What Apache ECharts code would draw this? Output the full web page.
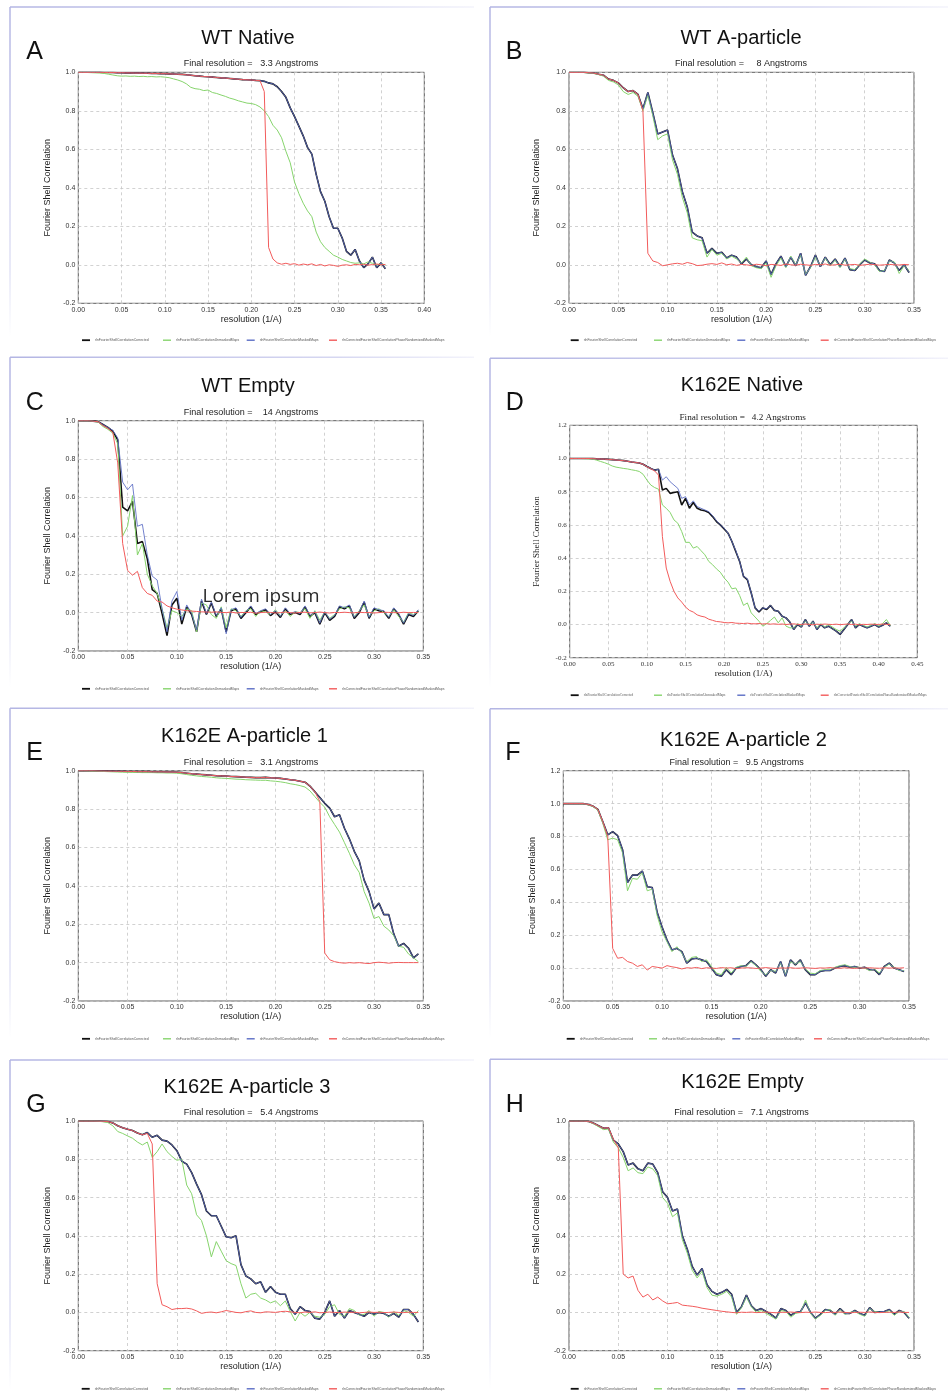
<!DOCTYPE html>
<html>
<head>
<meta charset="utf-8">
<script src="https://cdn.jsdelivr.net/npm/echarts@6/dist/echarts.min.js"></script>
<style>
  html, body { margin: 0; padding: 0; background: #fff; }
  #chart { width: 948px; height: 1395px; }
</style>
</head>
<body>
<div id="chart"></div>
<script>
// resolution samples (1/A)
const resA = [0,0.005,0.01,0.015,0.02,0.025,0.03,0.035,0.04,0.045,0.05,0.055,0.06,0.065,0.07,0.075,0.08,0.085,0.09,0.095,0.1,0.105,0.11,0.115,0.12,0.125,0.13,0.135,0.14,0.145,0.15,0.155,0.16,0.165,0.17,0.175,0.18,0.185,0.19,0.195,0.2,0.205,0.21,0.215,0.22,0.225,0.23,0.235,0.24,0.245,0.25,0.255,0.26,0.265,0.27,0.275,0.28,0.285,0.29,0.295,0.3,0.305,0.31,0.315,0.32,0.325,0.33,0.335,0.34,0.345,0.35,0.355];
const resS = [0,0.005,0.01,0.015,0.02,0.025,0.03,0.035,0.04,0.045,0.05,0.055,0.06,0.065,0.07,0.075,0.08,0.085,0.09,0.095,0.1,0.105,0.11,0.115,0.12,0.125,0.13,0.135,0.14,0.145,0.15,0.155,0.16,0.165,0.17,0.175,0.18,0.185,0.19,0.195,0.2,0.205,0.21,0.215,0.22,0.225,0.23,0.235,0.24,0.245,0.25,0.255,0.26,0.265,0.27,0.275,0.28,0.285,0.29,0.295,0.3,0.305,0.31,0.315,0.32,0.325,0.33,0.335,0.34,0.345];
const resD = [0,0.005,0.01,0.015,0.02,0.025,0.03,0.035,0.04,0.045,0.05,0.055,0.06,0.065,0.07,0.075,0.08,0.085,0.09,0.095,0.1,0.105,0.11,0.115,0.12,0.125,0.13,0.135,0.14,0.145,0.15,0.155,0.16,0.165,0.17,0.175,0.18,0.185,0.19,0.195,0.2,0.205,0.21,0.215,0.22,0.225,0.23,0.235,0.24,0.245,0.25,0.255,0.26,0.265,0.27,0.275,0.28,0.285,0.29,0.295,0.3,0.305,0.31,0.315,0.32,0.325,0.33,0.335,0.34,0.345,0.35,0.355,0.36,0.365,0.37,0.375,0.38,0.385,0.39,0.395,0.4,0.405,0.41,0.415];

// A - WT Native
const corrA = [1.000,1.000,1.000,1.000,1.000,1.000,0.999,0.999,0.999,0.998,0.998,0.997,0.997,0.996,0.996,0.995,0.995,0.994,0.994,0.993,0.993,0.992,0.991,0.990,0.989,0.987,0.985,0.982,0.980,0.978,0.977,0.975,0.973,0.971,0.970,0.968,0.966,0.964,0.962,0.961,0.960,0.958,0.957,0.953,0.945,0.940,0.925,0.900,0.870,0.815,0.770,0.720,0.670,0.610,0.575,0.470,0.380,0.330,0.250,0.190,0.190,0.140,0.070,0.050,0.080,0.020,-0.015,0.005,0.040,-0.015,0.010,-0.020];
const unmaskA = [1.000,1.000,0.999,0.998,0.997,0.996,0.994,0.990,0.986,0.982,0.980,0.981,0.979,0.980,0.978,0.979,0.977,0.978,0.976,0.977,0.975,0.972,0.966,0.960,0.952,0.940,0.922,0.915,0.912,0.905,0.908,0.895,0.890,0.882,0.875,0.866,0.860,0.852,0.846,0.840,0.838,0.832,0.820,0.800,0.770,0.725,0.700,0.660,0.590,0.530,0.430,0.370,0.320,0.280,0.250,0.170,0.120,0.090,0.070,0.050,0.040,0.028,0.020,0.012,0.008,0.010,0.005,0.015,0.008,0.000,0.005,0.000];
const phaseA = [1.000,1.000,1.000,1.000,1.000,1.000,0.999,0.999,0.999,0.998,0.998,0.997,0.997,0.996,0.996,0.995,0.995,0.994,0.994,0.993,0.993,0.992,0.991,0.990,0.989,0.987,0.985,0.982,0.980,0.978,0.977,0.975,0.973,0.971,0.970,0.968,0.966,0.964,0.962,0.961,0.960,0.958,0.957,0.900,0.090,0.030,0.010,0.003,0.008,0.002,0.006,-0.002,0.004,0.000,0.005,-0.004,0.002,-0.006,0.000,-0.003,-0.008,-0.002,0.000,-0.004,0.002,0.000,0.003,-0.002,0.001,0.004,0.000,0.002];

// B - WT A-particle
const corrB = [1.000,1.000,1.000,1.000,0.998,0.996,0.990,0.985,0.965,0.958,0.945,0.920,0.900,0.905,0.885,0.810,0.895,0.790,0.680,0.690,0.700,0.570,0.500,0.380,0.300,0.170,0.150,0.140,0.060,0.085,0.060,0.065,0.035,0.050,0.040,0.005,0.030,0.000,-0.010,-0.015,0.020,-0.050,0.005,0.045,-0.010,0.040,-0.005,0.060,-0.055,-0.010,0.050,-0.010,0.040,0.000,0.030,-0.010,0.035,-0.025,-0.030,0.000,0.025,0.010,0.005,-0.030,-0.035,0.025,0.010,-0.030,0.000,-0.040];
const unmaskB = [1.000,1.000,1.000,0.999,0.997,0.994,0.988,0.980,0.958,0.950,0.935,0.900,0.885,0.895,0.875,0.800,0.880,0.775,0.650,0.670,0.680,0.545,0.470,0.350,0.270,0.140,0.130,0.125,0.040,0.080,0.050,0.060,0.030,0.045,0.030,0.010,0.040,-0.005,-0.015,-0.020,0.010,-0.065,-0.005,0.035,-0.015,0.045,0.000,0.050,-0.050,-0.015,0.040,-0.005,0.035,-0.005,0.025,-0.015,0.030,-0.020,-0.025,0.005,0.030,0.015,0.000,-0.035,-0.030,0.020,0.015,-0.045,-0.005,-0.030];
const phaseB = [1.000,1.000,1.000,1.000,0.998,0.996,0.990,0.985,0.965,0.958,0.945,0.920,0.900,0.905,0.885,0.800,0.060,0.020,0.012,-0.005,0.000,0.005,0.008,0.003,0.012,0.006,-0.004,-0.002,0.003,0.006,0.002,0.010,0.000,0.004,-0.003,0.002,0.000,-0.004,0.003,0.000,-0.005,0.002,0.000,-0.003,0.004,0.000,-0.002,0.003,0.000,-0.003,0.002,0.000,0.004,-0.002,0.000,0.003,-0.002,0.000,0.002,-0.003,0.000,0.003,0.001,-0.002,0.000,0.002,0.000,-0.001,0.002,0.000];

// C - WT Empty
const corrC = [1.000,1.000,1.000,0.998,0.995,0.980,0.965,0.945,0.900,0.550,0.530,0.580,0.360,0.370,0.280,0.120,0.100,-0.005,-0.120,0.040,0.075,-0.060,0.030,-0.010,-0.100,0.060,-0.010,0.050,-0.020,0.020,-0.100,0.010,0.020,-0.030,0.000,0.030,-0.010,0.005,0.015,-0.015,0.005,-0.025,0.020,-0.010,0.000,-0.010,0.030,-0.020,0.000,-0.060,0.000,-0.040,-0.020,0.030,0.020,0.035,-0.030,0.000,0.055,-0.030,0.020,0.010,0.005,-0.030,0.020,-0.010,-0.060,-0.010,-0.020,0.010];
const unmaskC = [1.000,1.000,1.000,0.997,0.993,0.970,0.955,0.935,0.880,0.400,0.450,0.610,0.300,0.360,0.200,0.140,0.100,0.020,-0.080,0.010,0.000,-0.020,0.020,0.010,-0.100,0.050,0.040,-0.010,-0.030,0.030,-0.080,0.020,0.010,-0.020,0.010,0.020,-0.020,0.010,0.005,-0.010,0.015,-0.015,0.010,-0.020,0.005,0.000,0.020,-0.030,0.010,-0.040,0.005,-0.030,-0.010,0.020,0.030,0.025,-0.020,0.010,0.040,-0.020,0.010,0.020,0.000,-0.020,0.015,-0.020,-0.050,0.000,-0.010,0.005];
const maskC = [1.000,1.000,1.000,0.998,0.995,0.980,0.965,0.950,0.910,0.680,0.640,0.670,0.450,0.460,0.300,0.190,0.170,0.020,-0.100,0.060,0.110,-0.040,0.040,-0.005,-0.090,0.070,-0.005,0.055,-0.015,0.025,-0.110,0.015,0.025,-0.025,0.005,0.035,-0.005,0.010,0.020,-0.010,0.010,-0.020,0.025,-0.005,0.005,-0.005,0.035,-0.015,0.005,-0.055,0.005,-0.035,-0.015,0.035,0.025,0.040,-0.025,0.005,0.060,-0.025,0.025,0.015,0.010,-0.025,0.025,-0.005,-0.055,-0.005,-0.015,0.015];
const phaseC = [1.000,1.000,1.000,0.998,0.995,0.975,0.960,0.940,0.780,0.360,0.220,0.195,0.215,0.130,0.100,0.090,0.060,0.055,0.035,0.025,0.018,0.014,0.010,0.008,0.006,0.004,0.003,0.002,0.004,0.001,0.000,0.003,-0.002,0.001,0.000,0.002,-0.003,0.000,0.002,0.001,-0.002,0.000,0.003,0.000,-0.002,0.001,0.002,-0.001,0.000,0.003,0.000,-0.002,0.001,0.000,0.002,0.000,-0.001,0.002,0.000,0.001,-0.002,0.000,0.002,0.001,0.000,-0.001,0.002,0.000,0.001,0.000];

// D - K162E Native
const corrD = [1.000,1.000,1.000,1.000,1.000,1.000,0.999,0.998,0.997,0.996,0.995,0.993,0.991,0.989,0.987,0.983,0.979,0.976,0.973,0.965,0.952,0.940,0.930,0.935,0.810,0.820,0.790,0.795,0.800,0.720,0.760,0.700,0.735,0.700,0.690,0.685,0.675,0.650,0.620,0.600,0.575,0.550,0.500,0.440,0.380,0.290,0.270,0.190,0.100,0.075,0.100,0.090,0.115,0.085,0.080,0.050,0.040,0.015,-0.030,0.000,-0.015,0.030,-0.010,0.020,-0.030,0.000,-0.020,-0.010,-0.025,-0.040,-0.060,-0.030,0.000,0.030,-0.020,0.000,-0.010,-0.020,-0.010,0.000,-0.015,-0.005,0.010,-0.010];
const unmaskD = [1.000,1.000,1.000,1.000,0.999,0.998,0.996,0.990,0.982,0.975,0.966,0.955,0.948,0.944,0.940,0.937,0.932,0.928,0.922,0.905,0.870,0.840,0.825,0.815,0.720,0.700,0.675,0.630,0.610,0.560,0.495,0.495,0.460,0.470,0.445,0.420,0.380,0.360,0.335,0.315,0.280,0.255,0.215,0.220,0.175,0.115,0.130,0.070,0.045,0.020,-0.010,0.005,0.025,0.045,0.010,0.040,-0.010,-0.020,-0.020,0.005,-0.010,0.020,0.000,0.015,-0.020,0.005,-0.015,0.000,-0.015,-0.030,-0.040,-0.020,0.005,0.020,-0.010,0.005,-0.005,-0.015,-0.005,0.005,-0.010,0.005,0.030,-0.005];
const maskD = [1.000,1.000,1.000,1.000,1.000,1.000,0.999,0.998,0.997,0.996,0.995,0.993,0.991,0.989,0.987,0.983,0.979,0.976,0.973,0.965,0.952,0.940,0.930,0.935,0.870,0.890,0.860,0.840,0.820,0.760,0.770,0.720,0.745,0.710,0.700,0.690,0.680,0.655,0.625,0.600,0.580,0.550,0.500,0.445,0.380,0.290,0.275,0.190,0.100,0.080,0.100,0.095,0.115,0.085,0.080,0.050,0.040,0.015,-0.030,0.000,-0.015,0.030,-0.010,0.020,-0.030,0.000,-0.020,-0.010,-0.025,-0.040,-0.060,-0.030,0.000,0.030,-0.020,0.000,-0.010,-0.020,-0.010,0.000,-0.015,-0.005,0.010,-0.010];
const phaseD = [1.000,1.000,1.000,1.000,1.000,1.000,0.999,0.998,0.997,0.996,0.995,0.993,0.991,0.989,0.987,0.983,0.979,0.976,0.973,0.965,0.950,0.938,0.925,0.900,0.530,0.340,0.260,0.200,0.160,0.135,0.105,0.085,0.075,0.058,0.050,0.045,0.032,0.025,0.018,0.016,0.012,0.010,0.012,0.008,0.007,0.006,0.008,0.005,0.004,0.006,0.003,0.005,0.002,0.004,0.001,0.003,0.000,0.002,0.004,0.001,0.000,0.003,0.001,-0.002,0.002,0.000,0.003,0.001,0.000,0.002,-0.001,0.001,0.003,0.000,0.002,-0.002,0.001,0.000,0.002,0.001,0.000,0.003,0.001,0.000];

// E - K162E A-particle 1
const corrE = [1.000,1.000,1.000,1.000,0.999,0.999,0.998,0.998,0.997,0.997,0.996,0.996,0.995,0.995,0.995,0.994,0.994,0.994,0.993,0.993,0.992,0.990,0.987,0.984,0.982,0.980,0.978,0.976,0.974,0.973,0.972,0.970,0.969,0.968,0.966,0.965,0.964,0.964,0.965,0.963,0.962,0.960,0.957,0.953,0.950,0.945,0.940,0.920,0.890,0.860,0.830,0.805,0.760,0.770,0.700,0.645,0.580,0.530,0.430,0.370,0.280,0.310,0.250,0.250,0.150,0.085,0.100,0.075,0.025,0.045];
const unmaskE = [1.000,1.000,0.999,0.998,0.997,0.996,0.995,0.994,0.993,0.992,0.992,0.991,0.991,0.990,0.990,0.990,0.989,0.989,0.988,0.988,0.987,0.984,0.980,0.976,0.973,0.970,0.968,0.966,0.963,0.961,0.960,0.958,0.956,0.955,0.953,0.952,0.951,0.950,0.950,0.947,0.945,0.942,0.938,0.932,0.928,0.922,0.915,0.895,0.865,0.835,0.810,0.760,0.720,0.680,0.625,0.570,0.510,0.470,0.370,0.310,0.230,0.240,0.190,0.170,0.140,0.085,0.080,0.045,0.025,0.005];
const phaseE = [1.000,1.000,1.000,1.000,0.999,0.999,0.998,0.998,0.997,0.997,0.996,0.996,0.995,0.995,0.995,0.994,0.994,0.994,0.993,0.993,0.992,0.990,0.987,0.984,0.982,0.980,0.978,0.976,0.974,0.973,0.972,0.970,0.969,0.968,0.966,0.965,0.964,0.964,0.965,0.963,0.962,0.960,0.957,0.953,0.950,0.945,0.940,0.920,0.890,0.840,0.050,0.015,0.005,0.000,-0.003,0.000,-0.002,0.000,-0.003,-0.005,0.000,0.002,0.000,-0.003,0.000,0.001,0.000,0.000,0.000,0.000];

// F - K162E A-particle 2
const corrF = [1.000,1.000,1.000,1.000,1.000,0.995,0.985,0.965,0.890,0.810,0.830,0.805,0.720,0.520,0.565,0.565,0.590,0.495,0.490,0.340,0.250,0.170,0.110,0.120,0.100,0.030,0.055,0.060,0.050,0.040,0.000,-0.040,-0.050,-0.010,-0.040,0.000,0.010,0.015,0.045,0.020,-0.010,-0.050,-0.010,-0.030,0.040,-0.050,0.050,0.020,0.050,-0.010,-0.040,-0.040,-0.020,-0.015,-0.015,0.000,0.010,0.015,0.005,0.010,0.000,0.005,-0.010,-0.010,-0.040,0.010,0.030,0.000,-0.010,-0.020];
const unmaskF = [1.000,1.000,1.000,1.000,0.999,0.993,0.982,0.960,0.880,0.780,0.790,0.780,0.700,0.470,0.545,0.540,0.580,0.470,0.480,0.320,0.220,0.160,0.100,0.130,0.090,0.040,0.065,0.070,0.040,0.050,0.010,-0.030,-0.040,0.005,-0.030,0.005,0.015,0.010,0.040,0.015,-0.020,-0.040,-0.015,-0.020,0.030,-0.040,0.040,0.025,0.040,-0.005,-0.030,-0.035,-0.015,-0.010,-0.010,0.005,0.015,0.020,0.010,0.005,0.005,0.000,-0.015,-0.005,-0.030,0.005,0.025,0.005,-0.015,-0.015];
const phaseF = [1.000,1.000,1.000,1.000,1.000,0.995,0.985,0.965,0.890,0.800,0.120,0.060,0.065,0.040,0.030,0.010,0.020,-0.012,0.010,0.005,0.000,0.015,0.008,0.003,-0.005,0.002,0.000,0.004,-0.003,0.002,0.000,-0.002,0.003,0.000,0.002,-0.003,0.000,0.002,0.001,-0.002,0.000,0.003,0.000,-0.002,0.001,0.000,0.002,-0.001,0.000,0.002,0.000,-0.002,0.001,0.000,0.003,0.000,-0.001,0.002,0.000,-0.002,0.001,0.000,0.002,0.000,-0.001,0.002,0.000,0.001,0.000,0.002];

// G - K162E A-particle 3
const corrG = [1.000,1.000,1.000,1.000,1.000,0.999,0.997,0.990,0.975,0.965,0.957,0.950,0.937,0.928,0.940,0.915,0.925,0.900,0.895,0.875,0.845,0.790,0.775,0.730,0.670,0.615,0.530,0.505,0.505,0.450,0.395,0.390,0.400,0.250,0.190,0.175,0.150,0.160,0.105,0.135,0.105,0.095,0.095,0.020,-0.010,0.030,0.010,0.005,-0.030,-0.035,0.000,0.060,-0.020,0.010,-0.030,0.010,0.000,-0.010,-0.020,0.000,-0.010,0.000,-0.005,-0.020,-0.005,-0.025,0.015,0.015,-0.010,-0.050];
const unmaskG = [1.000,1.000,1.000,1.000,0.999,0.996,0.992,0.975,0.945,0.935,0.922,0.910,0.890,0.875,0.890,0.810,0.840,0.880,0.840,0.815,0.795,0.800,0.665,0.620,0.510,0.480,0.400,0.290,0.370,0.320,0.270,0.255,0.245,0.150,0.075,0.095,0.100,0.075,0.065,0.050,0.060,0.035,0.060,0.005,-0.045,0.000,-0.020,0.000,-0.020,-0.025,-0.010,0.030,0.040,-0.010,-0.020,0.020,0.010,-0.015,-0.010,0.010,-0.020,0.005,0.000,-0.025,0.005,-0.015,0.010,0.000,-0.020,0.010];
const phaseG = [1.000,1.000,1.000,1.000,1.000,0.999,0.997,0.990,0.975,0.965,0.957,0.950,0.937,0.928,0.935,0.880,0.150,0.040,0.030,0.015,0.020,0.020,0.022,0.018,0.008,-0.005,0.000,0.002,-0.002,0.003,0.010,0.005,0.000,-0.002,0.004,0.008,0.000,-0.002,0.003,0.002,0.000,0.004,0.006,0.003,0.000,-0.002,0.002,0.000,0.003,-0.002,0.000,0.002,0.000,-0.001,0.002,0.000,0.001,-0.002,0.000,0.002,0.000,0.001,-0.001,0.000,0.002,0.000,-0.001,0.001,0.000,0.000];

// H - K162E Empty
const corrH = [1.000,1.000,1.000,1.000,0.998,0.988,0.975,0.962,0.965,0.900,0.880,0.840,0.770,0.780,0.750,0.740,0.780,0.775,0.730,0.630,0.600,0.530,0.540,0.400,0.330,0.240,0.195,0.230,0.145,0.110,0.095,0.105,0.120,0.095,0.000,0.030,0.090,0.035,0.010,0.020,0.005,-0.010,-0.030,0.020,0.010,-0.015,0.000,0.005,0.050,0.000,-0.030,-0.010,0.015,0.010,-0.010,0.020,-0.005,-0.005,0.010,-0.005,-0.015,0.025,0.000,0.003,0.005,0.015,-0.010,0.010,0.000,-0.030];
const unmaskH = [1.000,1.000,1.000,1.000,0.997,0.985,0.970,0.955,0.958,0.890,0.860,0.810,0.740,0.755,0.730,0.725,0.760,0.750,0.715,0.600,0.570,0.500,0.520,0.380,0.310,0.220,0.180,0.215,0.130,0.090,0.085,0.095,0.110,0.080,-0.010,0.025,0.080,0.030,0.000,0.010,-0.005,-0.020,-0.035,0.010,0.005,-0.025,-0.005,0.000,0.065,-0.005,-0.035,-0.015,0.010,0.015,-0.015,0.015,-0.010,0.000,0.005,-0.010,-0.020,0.020,0.005,0.000,0.000,0.010,-0.015,0.005,0.005,-0.025];
const phaseH = [1.000,1.000,1.000,1.000,0.998,0.988,0.975,0.962,0.965,0.905,0.860,0.200,0.180,0.190,0.115,0.080,0.095,0.065,0.080,0.060,0.045,0.048,0.052,0.038,0.035,0.032,0.028,0.022,0.018,0.014,0.010,0.006,0.003,0.000,-0.002,0.001,0.000,0.002,-0.001,0.000,0.002,0.000,-0.002,0.001,0.000,0.002,0.000,-0.001,0.001,0.000,0.002,0.000,-0.001,0.001,0.000,0.002,0.000,-0.002,0.000,0.001,0.000,0.002,0.000,-0.001,0.000,0.001,0.000,0.002,0.000,0.000];

const seriesNames = [
  'rlnFourierShellCorrelationCorrected',
  'rlnFourierShellCorrelationUnmaskedMaps',
  'rlnFourierShellCorrelationMaskedMaps',
  'rlnCorrectedFourierShellCorrelationPhaseRandomizedMaskedMaps'
];
const seriesColors = ['#111111', '#86d46c', '#5a6cc4', '#f25b5b'];
const seriesWidths = [1.6, 1, 1, 1];

const sans = "'Liberation Sans', Arial, Helvetica, sans-serif";
const serif = "'Liberation Serif', 'Times New Roman', 'DejaVu Serif', serif";

// masked curve sits on top of the corrected one where they can't be told apart
const panels = [
  { letter: 'A', title: 'WT Native', sub: 'Final resolution =   3.3 Angstroms',
    x: resA, curves: [corrA, unmaskA, corrA, phaseA], xMax: 0.40, yMax: 1.0,
    grid: [78.3, 72.3, 346, 231], frame: [10, 7], letterPos: [34.5, 52.5], titlePos: [248, 38], subPos: [251, 63.5],
    legendTop: 338.7, legendX: [82, 163, 246.7, 329], yGap: 26.5, xGap: 11.5, serif: false },
  { letter: 'B', title: 'WT A-particle', sub: 'Final resolution =     8 Angstroms',
    x: resS, curves: [corrB, unmaskB, corrB, phaseB], xMax: 0.35, yMax: 1.0,
    grid: [569, 72.3, 345, 231], frame: [490, 7], letterPos: [514, 52.5], titlePos: [741, 38], subPos: [741, 63.5],
    legendTop: 338.7, legendX: [570.7, 654, 737.3, 820.7], yGap: 28, xGap: 11.5, serif: false },
  { letter: 'C', title: 'WT Empty', sub: 'Final resolution =    14 Angstroms',
    x: resS, curves: [corrC, unmaskC, maskC, phaseC], xMax: 0.35, yMax: 1.0,
    grid: [78.3, 420.7, 345, 230.3], frame: [10, 357.3], letterPos: [34.7, 403], titlePos: [248, 386.7], subPos: [251, 412.3],
    legendTop: 687.3, legendX: [82, 163, 246.7, 329], yGap: 26, xGap: 11, serif: false },
  { letter: 'D', title: 'K162E Native', sub: 'Final resolution =   4.2 Angstroms',
    x: resD, curves: [corrD, unmaskD, maskD, phaseD], xMax: 0.45, yMax: 1.2,
    grid: [569.7, 425.3, 347.6, 232.4], frame: [490, 358.3], letterPos: [514.7, 403], titlePos: [742, 385.7], subPos: [742.7, 417.3],
    legendTop: 693.7, legendX: [570.7, 654, 737.3, 820.7], yGap: 28.5, xGap: 11, serif: true },
  { letter: 'E', title: 'K162E A-particle 1', sub: 'Final resolution =   3.1 Angstroms',
    x: resS, curves: [corrE, unmaskE, corrE, phaseE], xMax: 0.35, yMax: 1.0,
    grid: [78.3, 770.7, 345, 230.3], frame: [10, 708.3], letterPos: [34.7, 753], titlePos: [244.5, 736.7], subPos: [251, 762.3],
    legendTop: 1037.3, legendX: [82, 163, 246.7, 329], yGap: 26, xGap: 11, serif: false },
  { letter: 'F', title: 'K162E A-particle 2', sub: 'Final resolution =   9.5 Angstroms',
    x: resS, curves: [corrF, unmaskF, corrF, phaseF], xMax: 0.35, yMax: 1.2,
    grid: [563.3, 770.7, 345.7, 230.3], frame: [490, 708.7], letterPos: [513, 753], titlePos: [743.5, 740.7], subPos: [736.7, 762.3],
    legendTop: 1037.3, legendX: [566.7, 649, 732.3, 814], yGap: 26.5, xGap: 11, serif: false },
  { letter: 'G', title: 'K162E A-particle 3', sub: 'Final resolution =   5.4 Angstroms',
    x: resS, curves: [corrG, unmaskG, corrG, phaseG], xMax: 0.35, yMax: 1.0,
    grid: [78.3, 1121, 345, 229.7], frame: [10, 1060], letterPos: [36, 1105], titlePos: [247, 1087], subPos: [251, 1112.3],
    legendTop: 1387.3, legendX: [81.7, 163, 246.7, 329], yGap: 26, xGap: 11.5, serif: false },
  { letter: 'H', title: 'K162E Empty', sub: 'Final resolution =   7.1 Angstroms',
    x: resS, curves: [corrH, unmaskH, corrH, phaseH], xMax: 0.35, yMax: 1.0,
    grid: [569, 1121, 345, 229.7], frame: [490, 1059.3], letterPos: [514.7, 1105], titlePos: [742.5, 1082], subPos: [741.5, 1112.3],
    legendTop: 1387.3, legendX: [570.7, 654, 737.3, 820.7], yGap: 28, xGap: 11.5, serif: false }
];

function textEl(pos, text, size, family, color) {
  return {
    type: 'text', x: pos[0], y: pos[1], z: 100, silent: true,
    style: {
      text: text, fontSize: size, fontFamily: family, fill: color || '#111',
      textAlign: 'center', textVerticalAlign: 'middle', align: 'center', verticalAlign: 'middle'
    }
  };
}

const option = {
  animation: false,
  backgroundColor: '#ffffff',
  grid: [], xAxis: [], yAxis: [], series: [], legend: [], graphic: []
};

panels.forEach(function (p, i) {
  const ff = p.serif ? serif : sans;
  option.grid.push({
    left: p.grid[0], top: p.grid[1], width: p.grid[2], height: p.grid[3],
    show: true, borderColor: '#5c5c5c', borderWidth: 1, backgroundColor: 'transparent',
    containLabel: false, outerBoundsMode: 'none'
  });
  option.xAxis.push({
    type: 'value', gridIndex: i, min: 0, max: p.xMax, interval: 0.05,
    axisLine: { show: false }, axisTick: { show: false },
    splitLine: { show: true, lineStyle: { color: '#c6c6c6', width: 0.8, type: [3, 3] } },
    axisLabel: { fontSize: 7, margin: 3, color: '#333', fontFamily: ff, formatter: function (v) { return v.toFixed(2); } },
    name: 'resolution (1/A)', nameLocation: 'middle', nameGap: p.xGap,
    nameTextStyle: { fontSize: 9, color: '#222', fontFamily: ff }
  });
  option.yAxis.push({
    type: 'value', gridIndex: i, min: -0.2, max: p.yMax, interval: 0.2,
    axisLine: { show: false }, axisTick: { show: false },
    splitLine: { show: true, lineStyle: { color: '#c6c6c6', width: 0.8, type: [3, 3] } },
    axisLabel: { fontSize: 7, margin: 3, color: '#333', fontFamily: ff, formatter: function (v) { return v.toFixed(1); } },
    name: 'Fourier Shell Correlation', nameLocation: 'middle', nameGap: p.yGap,
    nameTextStyle: { fontSize: 9, color: '#222', fontFamily: ff }
  });
  p.curves.forEach(function (ys, k) {
    option.series.push({
      type: 'line', name: seriesNames[k], xAxisIndex: i, yAxisIndex: i,
      data: p.x.map(function (xv, j) { return [xv, ys[j]]; }),
      showSymbol: false, symbol: 'none', clip: true,
      lineStyle: { color: seriesColors[k], width: seriesWidths[k], opacity: k === 2 ? 0.85 : 1 },
      itemStyle: { color: seriesColors[k] },
      emphasis: { disabled: true }
    });
    // one legend entry per curve, placed like the original column layout
    option.legend.push({
      data: [seriesNames[k]], left: p.legendX[k], top: p.legendTop, orient: 'horizontal',
      icon: 'rect', itemWidth: 8, itemHeight: k === 0 ? 1.8 : 1.4, padding: 0,
      selectedMode: false,
      textStyle: { fontSize: 3.4, color: '#555', fontFamily: ff }
    });
  });

  const right = p.frame[0] < 474 ? 474 : 948;
  option.graphic.push({
    type: 'rect', silent: true, z: 1,
    shape: { x: p.frame[0], y: p.frame[1] - 0.75, width: right - p.frame[0], height: 1.5 },
    style: { fill: new echarts.graphic.LinearGradient(0, 0, 1, 0, [
      { offset: 0, color: '#b3b5e3' }, { offset: 0.7, color: '#d6d7f1' }, { offset: 1, color: '#f3f3fb' }]) }
  });
  option.graphic.push({
    type: 'rect', silent: true, z: 1,
    shape: { x: p.frame[0] - 0.75, y: p.frame[1], width: 1.5, height: 330 },
    style: { fill: new echarts.graphic.LinearGradient(0, 0, 0, 1, [
      { offset: 0, color: '#b3b5e3' }, { offset: 0.8, color: '#e2e3f6' }, { offset: 1, color: '#ffffff' }]) }
  });
  option.graphic.push(textEl(p.letterPos, p.letter, 25, sans));
  option.graphic.push(textEl(p.titlePos, p.title, 20, sans));
  option.graphic.push(textEl(p.subPos, p.sub, p.serif ? 9.2 : 9, ff, '#222'));
});

option.graphic.push(textEl([261, 597], 'Lorem ipsum', 19, "'Open Sans', 'Noto Sans', sans-serif", '#2a2a2a'));

const chart = echarts.init(document.getElementById('chart'), null, { renderer: 'canvas' });
chart.setOption(option);
</script>
</body>
</html>
